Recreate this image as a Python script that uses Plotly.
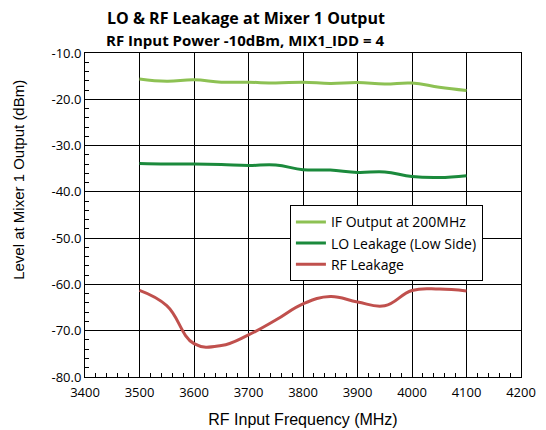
import plotly.graph_objects as go

freq = [3500, 3550, 3600, 3650, 3700, 3750, 3800, 3850, 3900, 3950, 4000, 4050, 4100]
if_output = [-15.6, -16.1, -15.8, -16.3, -16.3, -16.5, -16.3, -16.6, -16.4, -16.7, -16.5, -17.4, -18.1]
lo_leak = [-33.9, -34.0, -34.0, -34.1, -34.3, -34.2, -35.2, -35.3, -35.8, -35.7, -36.7, -36.9, -36.5]
rf_leak = [-61.3, -64.6, -72.8, -73.2, -70.9, -67.7, -64.2, -62.6, -63.8, -64.6, -61.3, -61.0, -61.4]

names = ["IF Output at 200MHz", "LO Leakage (Low Side)", "RF Leakage"]
colors = ["#8DC153", "#1B8A3C", "#C0504D"]

x_ticks = [3400, 3500, 3600, 3700, 3800, 3900, 4000, 4100, 4200]
y_ticks = [-80, -70, -60, -50, -40, -30, -20, -10]
y_ticktext = ["-80.0", "-70.0", "-60.0", "-50.0", "-40.0", "-30.0", "-20.0", "-10.0"]

FONT = "Open Sans"
TFONT = "Liberation Sans"
fig = go.Figure()
for ys, nm, c in zip([if_output, lo_leak, rf_leak], names, colors):
    fig.add_trace(go.Scatter(x=freq, y=ys, name=nm, mode="lines",
                             line=dict(color=c, width=3, shape="spline", smoothing=1.2)))

# page body has an 8px default margin, so figure is 8px smaller and offsets reduced
fig.update_layout(
    width=538, height=422,
    paper_bgcolor="white", plot_bgcolor="white",
    margin=dict(l=77, r=25, t=45, b=53, autoexpand=False),
    font=dict(family=FONT, color="black", size=13),
    legend=dict(x=0.47, y=0.53, xanchor="left", yanchor="top", bgcolor="white",
                bordercolor="black", borderwidth=1, font=dict(size=14, family=FONT),
                tracegroupgap=0, itemwidth=30),
    showlegend=True,
    annotations=[
        dict(text="<b>LO & RF Leakage at Mixer 1 Output</b>", xref="paper", yref="paper",
             x=0.369, y=1.0, xanchor="center", yanchor="middle", yshift=35, showarrow=False,
             font=dict(size=16, family=FONT)),
        dict(text="<b>RF Input Power -10dBm, MIX1_IDD = 4</b>", xref="paper", yref="paper",
             x=0.369, y=1.0, xanchor="center", yanchor="middle", yshift=13, showarrow=False,
             font=dict(size=15, family=FONT)),
        dict(text="Level at Mixer 1 Output (dBm)", xref="paper", yref="paper",
             x=-0.154, y=0.608, xanchor="center", yanchor="middle", textangle=-90, showarrow=False,
             font=dict(size=15, family=TFONT)),
    ],
)
fig.update_xaxes(range=[3400, 4200], tickvals=x_ticks, showgrid=True, gridcolor="black", gridwidth=1,
                 showline=True, linecolor="black", linewidth=1, mirror=True, automargin=False,
                 ticks="inside", ticklen=5, tickcolor="black", ticklabelstandoff=3,
                 minor=dict(dtick=20, ticks="inside", ticklen=4, tickcolor="black", showgrid=False),
                 title=dict(text="RF Input Frequency (MHz)", font=dict(size=16, family=TFONT), standoff=14),
                 tickfont=dict(size=13), zeroline=False)
fig.update_yaxes(range=[-80, -10], tickvals=y_ticks, ticktext=y_ticktext, showgrid=True, gridcolor="black", gridwidth=1,
                 showline=True, linecolor="black", linewidth=1, mirror=True, automargin=False,
                 ticks="inside", ticklen=5, tickcolor="black",
                 minor=dict(dtick=2, ticks="inside", ticklen=4, tickcolor="black", showgrid=False),
                 tickfont=dict(size=13), zeroline=False)

fig.write_html("out.html")
